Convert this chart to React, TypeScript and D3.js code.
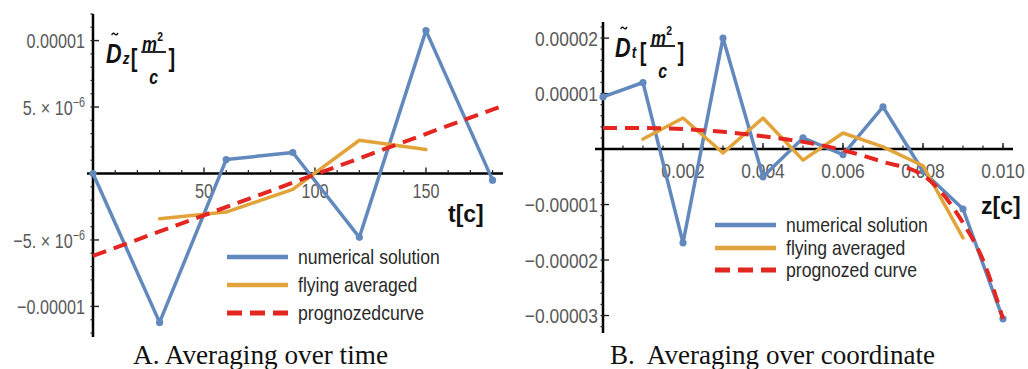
import * as d3 from 'd3';

// Panel A: averaging over time
const timeT = [0, 30, 60, 90, 120, 150, 180];
const numericalA = [0, -1.12e-5, 1.05e-6, 1.58e-6, -4.8e-6, 1.075e-5, -0.5e-6];
const flyingT = [30, 60, 90, 120, 150];
const flyingA = [-3.4e-6, -2.9e-6, -1.2e-6, 2.5e-6, 1.8e-6];
const prognozT = [0, 183];
const prognozA = [-6.2e-6, 5.0e-6];
const xTicksA = [50, 100, 150];
const yTicksA = [1e-5, 5e-6, -5e-6, -1e-5];
const yTickLabelsA = ['0.00001', '5.|−6', '−5.|−6', '−0.00001'];
const legendA = ['numerical solution', 'flying averaged', 'prognozedcurve'];

// Panel B: averaging over coordinate
const zGrid = [0, 0.001, 0.002, 0.003, 0.004, 0.005, 0.006, 0.007, 0.008, 0.009, 0.01];
const numericalB = [0.94e-5, 1.2e-5, -1.69e-5, 2.0e-5, -0.5e-5, 0.2e-5, -0.1e-5, 0.76e-5, -0.4e-5, -1.08e-5, -3.06e-5];
const flyingZ = [0.001, 0.002, 0.003, 0.004, 0.005, 0.006, 0.007, 0.008, 0.009];
const flyingB = [0.18e-5, 0.56e-5, -0.07e-5, 0.56e-5, -0.2e-5, 0.29e-5, 0.04e-5, -0.3e-5, -1.6e-5];
const prognozZ = [0, 0.001, 0.002, 0.003, 0.004, 0.005, 0.006, 0.007, 0.008, 0.009, 0.0095, 0.01];
const prognozB = [0.38e-5, 0.38e-5, 0.36e-5, 0.31e-5, 0.23e-5, 0.13e-5, -0.02e-5, -0.23e-5, -0.47e-5, -1.33e-5, -2.0e-5, -3.06e-5];
const xTicksB = [0.002, 0.004, 0.006, 0.008, 0.01];
const xTickLabelsB = ['0.002', '0.004', '0.006', '0.008', '0.010'];
const yTicksB = [2e-5, 1e-5, -1e-5, -2e-5, -3e-5];
const yTickLabelsB = ['0.00002', '0.00001', '−0.00001', '−0.00002', '−0.00003'];
const legendB = ['numerical solution', 'flying averaged', 'prognozed curve'];

const BLUE = '#6289bd';
const ORANGE = '#e2a43a';
const RED = '#e3261f';
const TICK_GRAY = '#5a5a5a';
const SANS = '"Liberation Sans", Arial, sans-serif';
const SERIF = '"Liberation Serif", "Times New Roman", serif';

type Pt = [number, number];
const zip = (xs: number[], ys: number[]): Pt[] => xs.map((x, i) => [x, ys[i]]);

// text squeezed horizontally (the reference fonts are condensed)
function NText({
  x, y, sx, size, anchor = 'start', fill = TICK_GRAY, weight = 400, dy, children,
}: {
  x: number; y: number; sx: number; size: number; anchor?: string; fill?: string; weight?: number; dy?: string;
  children: React.ReactNode;
}) {
  return (
    <g transform={`translate(${x},${y}) scale(${sx},1)`}>
      <text textAnchor={anchor as any} dy={dy} fontSize={size} fontWeight={weight} fontFamily={SANS} fill={fill}>
        {children}
      </text>
    </g>
  );
}

function AxisTitle({ x, y, sub }: { x: number; y: number; sub: string }) {
  const it = { fontFamily: SANS, fontWeight: 700, fontStyle: 'italic' as const, fill: '#111' };
  const br = { fontFamily: SANS, fontWeight: 700, fill: '#111' };
  return (
    <g transform={`translate(${x},${y}) scale(0.8,1)`}>
      <path d="M7,-28 q2,-3 4,-1 t4,-1" fill="none" stroke="#111" strokeWidth={1.6} />
      <text x={0} y={0} fontSize={27} {...it}>D</text>
      <text x={21} y={1} fontSize={17} {...it}>{sub}</text>
      <text x={31} y={4} fontSize={25} {...br}>[</text>
      <text x={45} y={-12} fontSize={21} {...it}>m</text>
      <text x={64} y={-22} fontSize={13} {...br}>2</text>
      <line x1={44} x2={75} y1={-11} y2={-11} stroke="#111" strokeWidth={1.8} />
      <text x={54} y={21} fontSize={20} {...it}>c</text>
      <text x={78} y={4} fontSize={25} {...br}>]</text>
    </g>
  );
}

interface PanelProps {
  x: d3.ScaleLinear<number, number>;
  y: d3.ScaleLinear<number, number>;
  xMinor: number[];
  yMinor: number[];
  xTicks: number[];
  xLabels: string[];
  xLabelDy: number;
  yTicks: number[];
  yLabels: string[];
  yLabelGap: number;
  tickSx: number;
  numerical: Pt[];
  flying: Pt[];
  prognoz: Pt[];
  prognozCurve: d3.CurveFactory;
  legend: string[];
  legendX: number;
  legendY: number[];
  sub: string;
  titlePos: [number, number];
  axisName: string;
  axisNamePos: [number, number];
}

function Panel(p: PanelProps) {
  const [x0, x1] = p.x.range();
  const [yb, yt] = p.y.range();
  const ax = p.x(0);
  const ay = p.y(0);
  const line = d3.line<Pt>().x((d) => p.x(d[0])).y((d) => p.y(d[1]));
  const curve = d3.line<Pt>().x((d) => p.x(d[0])).y((d) => p.y(d[1])).curve(p.prognozCurve);
  return (
    <g>
      {/* axes */}
      <line x1={x0} x2={x1} y1={ay} y2={ay} stroke="#000" strokeWidth={2.5} />
      <line x1={ax} x2={ax} y1={yt} y2={yb} stroke="#000" strokeWidth={2.5} />
      {p.xMinor.map((v, i) => (
        <line key={'xm' + i} x1={p.x(v)} x2={p.x(v)} y1={ay} y2={ay - 3.5} stroke="#222" strokeWidth={1.2} />
      ))}
      {p.xTicks.map((v, i) => (
        <line key={'xM' + i} x1={p.x(v)} x2={p.x(v)} y1={ay} y2={ay - 6} stroke="#222" strokeWidth={1.4} />
      ))}
      {p.yMinor.map((v, i) => (
        <line key={'ym' + i} x1={ax - 2.5} x2={ax} y1={p.y(v)} y2={p.y(v)} stroke="#222" strokeWidth={1.2} />
      ))}
      {p.yTicks.map((v, i) => (
        <line key={'yM' + i} x1={ax} x2={ax + 6} y1={p.y(v)} y2={p.y(v)} stroke="#222" strokeWidth={1.4} />
      ))}
      {p.xTicks.map((v, i) => (
        <NText key={'xl' + i} x={p.x(v)} y={ay + p.xLabelDy} sx={p.tickSx} size={21} anchor="middle">
          {p.xLabels[i]}
        </NText>
      ))}
      {p.yTicks.map((v, i) => {
        const lab = p.yLabels[i];
        const parts = lab.split('|');
        return (
          <NText key={'yl' + i} x={ax - p.yLabelGap} y={p.y(v)} sx={p.tickSx} size={21} anchor="end" dy="0.36em">
            {parts.length === 2 ? (
              <>
                {parts[0]} × 10<tspan dy={-8} fontSize={14}>{parts[1]}</tspan>
              </>
            ) : (
              lab
            )}
          </NText>
        );
      })}
      <AxisTitle x={p.titlePos[0]} y={p.titlePos[1]} sub={p.sub} />
      <text x={p.axisNamePos[0]} y={p.axisNamePos[1]} fontSize={23} fontWeight={700} fontFamily={SANS} fill="#111">
        {p.axisName}
      </text>

      {/* series */}
      <path d={line(p.numerical) ?? ''} fill="none" stroke={BLUE} strokeWidth={3.5} strokeLinejoin="round" />
      {p.numerical.map((d, i) => (
        <circle key={'pt' + i} cx={p.x(d[0])} cy={p.y(d[1])} r={3.6} fill={BLUE} />
      ))}
      <path d={line(p.flying) ?? ''} fill="none" stroke={ORANGE} strokeWidth={3.5} strokeLinejoin="round" strokeLinecap="round" />
      <path d={curve(p.prognoz) ?? ''} fill="none" stroke={RED} strokeWidth={4} strokeDasharray="14,8" />

      {/* legend */}
      {[BLUE, ORANGE, RED].map((c, i) => (
        <g key={'lg' + i}>
          <line
            x1={p.legendX}
            x2={p.legendX + 61}
            y1={p.legendY[i]}
            y2={p.legendY[i]}
            stroke={c}
            strokeWidth={i === 2 ? 5 : 4.5}
            strokeDasharray={i === 2 ? '15,8' : undefined}
          />
          <NText x={p.legendX + 71} y={p.legendY[i]} sx={0.88} size={20} dy="0.35em" fill="#2a2a2a">
            {p.legend[i]}
          </NText>
        </g>
      ))}
    </g>
  );
}

export default function App() {
  const xA = d3.scaleLinear().domain([-2.7, 184.7]).range([87, 503]);
  const yA = d3.scaleLinear().domain([-1.23e-5, 1.2e-5]).range([337, 14]);
  const xB = d3.scaleLinear().domain([-0.0002, 0.01025]).range([595, 1013]);
  const yB = d3.scaleLinear().domain([-3.315e-5, 2.29e-5]).range([333, 22]);

  const xMinorA = d3.range(10, 181, 10).filter((v) => v % 50 !== 0);
  const yMinorA = d3.range(-12, 12.5, 1).map((v) => v * 1e-6).filter((v) => Math.abs(v) > 1e-9);
  const xMinorB = d3.range(1, 21, 1).map((v) => v * 0.0005);
  const yMinorB = d3.range(-32, 22.5, 2).map((v) => v * 1e-6).filter((v) => Math.abs(v) > 1e-9);

  return (
    <svg width={1028} height={369} style={{ position: 'absolute', left: 0, top: 0, background: '#fff' }}>
      <rect width={1028} height={369} fill="#fff" />
      <Panel
        x={xA}
        y={yA}
        xMinor={xMinorA}
        yMinor={yMinorA}
        xTicks={xTicksA}
        xLabels={xTicksA.map(String)}
        xLabelDy={24}
        yTicks={yTicksA}
        yLabels={yTickLabelsA}
        yLabelGap={8}
        tickSx={0.77}
        numerical={zip(timeT, numericalA)}
        flying={zip(flyingT, flyingA)}
        prognoz={zip(prognozT, prognozA)}
        prognozCurve={d3.curveLinear}
        legend={legendA}
        legendX={227}
        legendY={[257, 285, 313]}
        sub="z"
        titlePos={[106, 63]}
        axisName="t[c]"
        axisNamePos={[448, 222]}
      />
      <Panel
        x={xB}
        y={yB}
        xMinor={xMinorB}
        yMinor={yMinorB}
        xTicks={xTicksB}
        xLabels={xTickLabelsB}
        xLabelDy={29}
        yTicks={yTicksB}
        yLabels={yTickLabelsB}
        yLabelGap={5}
        tickSx={0.83}
        numerical={zip(zGrid, numericalB)}
        flying={zip(flyingZ, flyingB)}
        prognoz={zip(prognozZ, prognozB)}
        prognozCurve={d3.curveMonotoneX}
        legend={legendB}
        legendX={715}
        legendY={[225, 248, 270]}
        sub="t"
        titlePos={[615, 57]}
        axisName="z[c]"
        axisNamePos={[981, 214]}
      />
      <text x={133} y={364} fontSize={27} fontFamily={SERIF} fill="#111" textLength={255} lengthAdjust="spacingAndGlyphs">
        A. Averaging over time
      </text>
      <text x={610} y={364} fontSize={27} fontFamily={SERIF} fill="#111" textLength={325} lengthAdjust="spacingAndGlyphs" style={{ whiteSpace: 'pre' }}>
        B.  Averaging over coordinate
      </text>
    </svg>
  );
}
